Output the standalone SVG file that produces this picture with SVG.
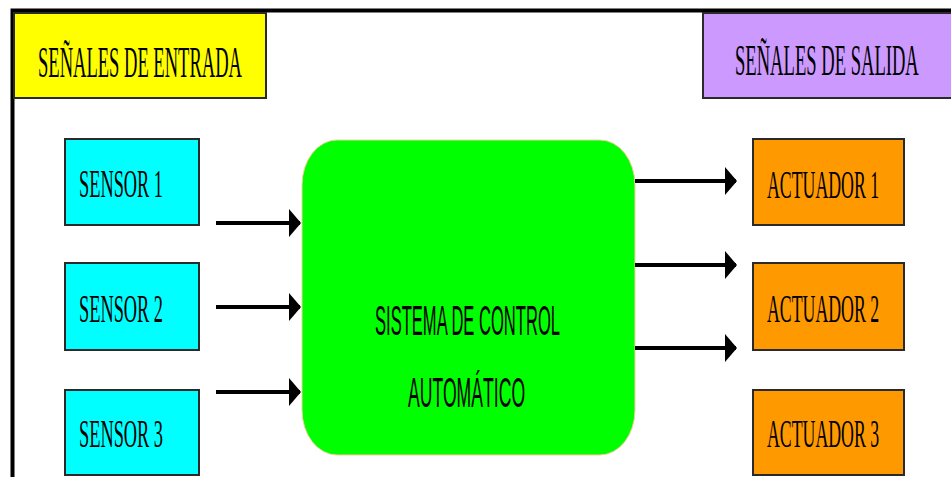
<svg xmlns="http://www.w3.org/2000/svg" width="951" height="477" viewBox="0 0 951 477">
<defs>
<style>
.box{stroke:#2a2a2a;stroke-width:2}
.lbl{font-family:"Liberation Serif","DejaVu Serif",serif;fill:#000;font-size:41px}
.hdr{font-family:"Liberation Serif","DejaVu Serif",serif;fill:#000;font-size:45px}
.ctr{font-family:"Liberation Sans","DejaVu Sans",sans-serif;fill:#000;font-size:43px}
.conn{stroke:#000;stroke-width:4;fill:none}
</style>
<marker id="ah" viewBox="0 0 12 28" markerWidth="12" markerHeight="28" refX="11" refY="14" orient="auto" markerUnits="userSpaceOnUse">
<path d="M0,0 L12,14 L0,28 Z" fill="#000"/>
</marker>
</defs>
<rect width="951" height="477" fill="#fff"/>
<path d="M12.5,477 V10.5 H951" stroke="#000" stroke-width="4" fill="none"/>

<g id="entrada">
<rect class="box" x="14" y="13" width="252" height="85" fill="#FFFF00"/>
<text class="hdr" transform="translate(38,77) scale(0.412,1)" textLength="495" lengthAdjust="spacingAndGlyphs">SEÑALES DE ENTRADA</text>
</g>
<g id="salida">
<rect class="box" x="703" y="13" width="250" height="85" fill="#CC99FF"/>
<text class="hdr" transform="translate(735,75) scale(0.413,1)" textLength="445" lengthAdjust="spacingAndGlyphs">SEÑALES DE SALIDA</text>
</g>

<g id="sensor1">
<rect class="box" x="65" y="139" width="134" height="86" fill="#00FFFF"/>
<text class="lbl" transform="translate(79,197) scale(0.447,1)" textLength="188" lengthAdjust="spacingAndGlyphs">SENSOR 1</text>
</g>
<g id="sensor2">
<rect class="box" x="65" y="263" width="134" height="87" fill="#00FFFF"/>
<text class="lbl" transform="translate(79,322) scale(0.447,1)" textLength="188" lengthAdjust="spacingAndGlyphs">SENSOR 2</text>
</g>
<g id="sensor3">
<rect class="box" x="65" y="390" width="134" height="85" fill="#00FFFF"/>
<text class="lbl" transform="translate(79,447) scale(0.447,1)" textLength="188" lengthAdjust="spacingAndGlyphs">SENSOR 3</text>
</g>

<g id="sistema">
<rect x="302" y="140" width="333" height="315" rx="35" ry="45" fill="#00FF00" stroke="#f3cf9c" stroke-width="1"/>
<text class="ctr" transform="translate(375,335) scale(0.383,1)" textLength="483" lengthAdjust="spacingAndGlyphs">SISTEMA DE CONTROL</text>
<text class="ctr" transform="translate(408,407) scale(0.408,1)" textLength="287" lengthAdjust="spacingAndGlyphs">AUTOMÁTICO</text>
</g>

<g id="actuador1">
<rect class="box" x="753" y="139" width="151" height="86" fill="#FF9900"/>
<text class="lbl" transform="translate(767,198) scale(0.433,1)" textLength="259" lengthAdjust="spacingAndGlyphs">ACTUADOR 1</text>
</g>
<g id="actuador2">
<rect class="box" x="753" y="263" width="151" height="87" fill="#FF9900"/>
<text class="lbl" transform="translate(767,322) scale(0.433,1)" textLength="259" lengthAdjust="spacingAndGlyphs">ACTUADOR 2</text>
</g>
<g id="actuador3">
<rect class="box" x="753" y="390" width="151" height="85" fill="#FF9900"/>
<text class="lbl" transform="translate(767,447) scale(0.433,1)" textLength="259" lengthAdjust="spacingAndGlyphs">ACTUADOR 3</text>
</g>

<g id="connectors">
<line class="conn" x1="216" y1="223" x2="300" y2="223" marker-end="url(#ah)"/>
<line class="conn" x1="216" y1="307" x2="300" y2="307" marker-end="url(#ah)"/>
<line class="conn" x1="216" y1="392" x2="300" y2="392" marker-end="url(#ah)"/>
<line class="conn" x1="635" y1="181" x2="736" y2="181" marker-end="url(#ah)"/>
<line class="conn" x1="635" y1="265" x2="736" y2="265" marker-end="url(#ah)"/>
<line class="conn" x1="635" y1="348" x2="736" y2="348" marker-end="url(#ah)"/>
</g>
</svg>
